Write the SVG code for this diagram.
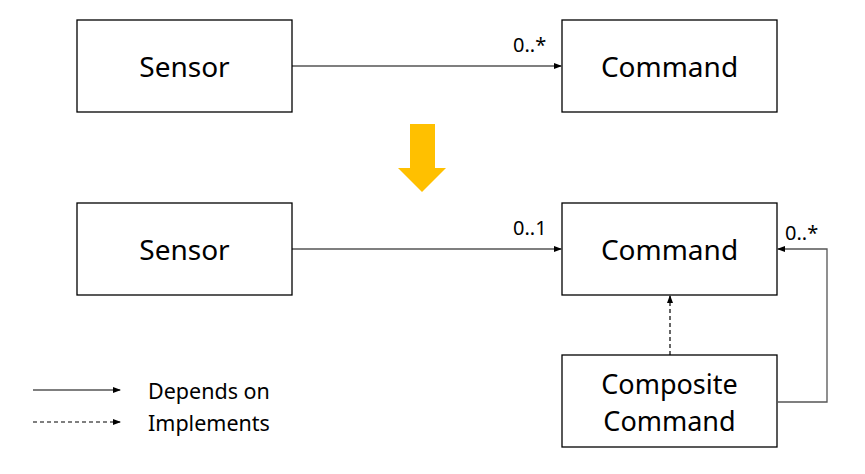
<svg xmlns="http://www.w3.org/2000/svg" width="865" height="474" viewBox="0 0 865 474">
<defs>
<marker id="ah" markerWidth="8" markerHeight="6" refX="7" refY="3" orient="auto" markerUnits="userSpaceOnUse">
<path d="M0,0 L8,3 L0,6 Z" fill="#000"/>
</marker>
<style>
.box{fill:#fff;stroke:#000;stroke-width:1.3}
.lbl{font-family:"Noto Sans","Open Sans",sans-serif;font-size:28px;fill:#000;text-anchor:middle;dominant-baseline:central}
.lbl2{font-size:27px}
.mult{font-family:"Noto Sans","Open Sans",sans-serif;font-size:20px;fill:#000}
.leg{font-family:"Noto Sans","Open Sans",sans-serif;font-size:21.5px;fill:#000;dominant-baseline:central}
.ln{fill:none;stroke:#000;stroke-width:1.2}
.dash{fill:none;stroke:#000;stroke-width:1.2;stroke-dasharray:4,3}
</style>
</defs>
<rect width="865" height="474" fill="#fff"/>
<g id="sensor1"><rect class="box" x="77" y="20" width="215" height="92"/><text class="lbl" x="184.5" y="66">Sensor</text></g>
<g id="command1"><rect class="box" x="562" y="20" width="215" height="92"/><text class="lbl" x="669.5" y="66">Command</text></g>
<g id="sensor2"><rect class="box" x="77" y="203" width="215" height="92"/><text class="lbl" x="184.5" y="249">Sensor</text></g>
<g id="command2"><rect class="box" x="562" y="203" width="215" height="92"/><text class="lbl" x="669.5" y="249">Command</text></g>
<g id="composite"><rect class="box" x="562" y="355" width="215" height="92"/><text class="lbl lbl2" x="669.5" y="383">Composite</text><text class="lbl lbl2" x="669.5" y="420">Command</text></g>
<g id="transition-arrow"><polygon points="410,124 435,124 435,168 446,168 422,192 398,168 410,168" fill="#FFC000"/></g>
<g id="connectors">
<line class="ln" x1="292" y1="66" x2="561" y2="66" marker-end="url(#ah)"/>
<text class="mult" x="513" y="52">0..*</text>
<line class="ln" x1="292" y1="249" x2="561" y2="249" marker-end="url(#ah)"/>
<text class="mult" x="513" y="235">0..1</text>
<line class="dash" x1="670" y1="355" x2="670" y2="296" marker-end="url(#ah)"/>
<polyline points="777,402 827,402 827,249 778,249" fill="none" stroke="#555" stroke-width="1.3" marker-end="url(#ah)"/>
<text class="mult" x="785" y="240">0..*</text>
</g>
<g id="legend">
<line class="ln" x1="33" y1="390" x2="120" y2="390" marker-end="url(#ah)"/>
<text class="leg" x="148" y="390">Depends on</text>
<line class="dash" x1="33" y1="422" x2="120" y2="422" marker-end="url(#ah)"/>
<text class="leg" x="148" y="422">Implements</text>
</g>
</svg>
